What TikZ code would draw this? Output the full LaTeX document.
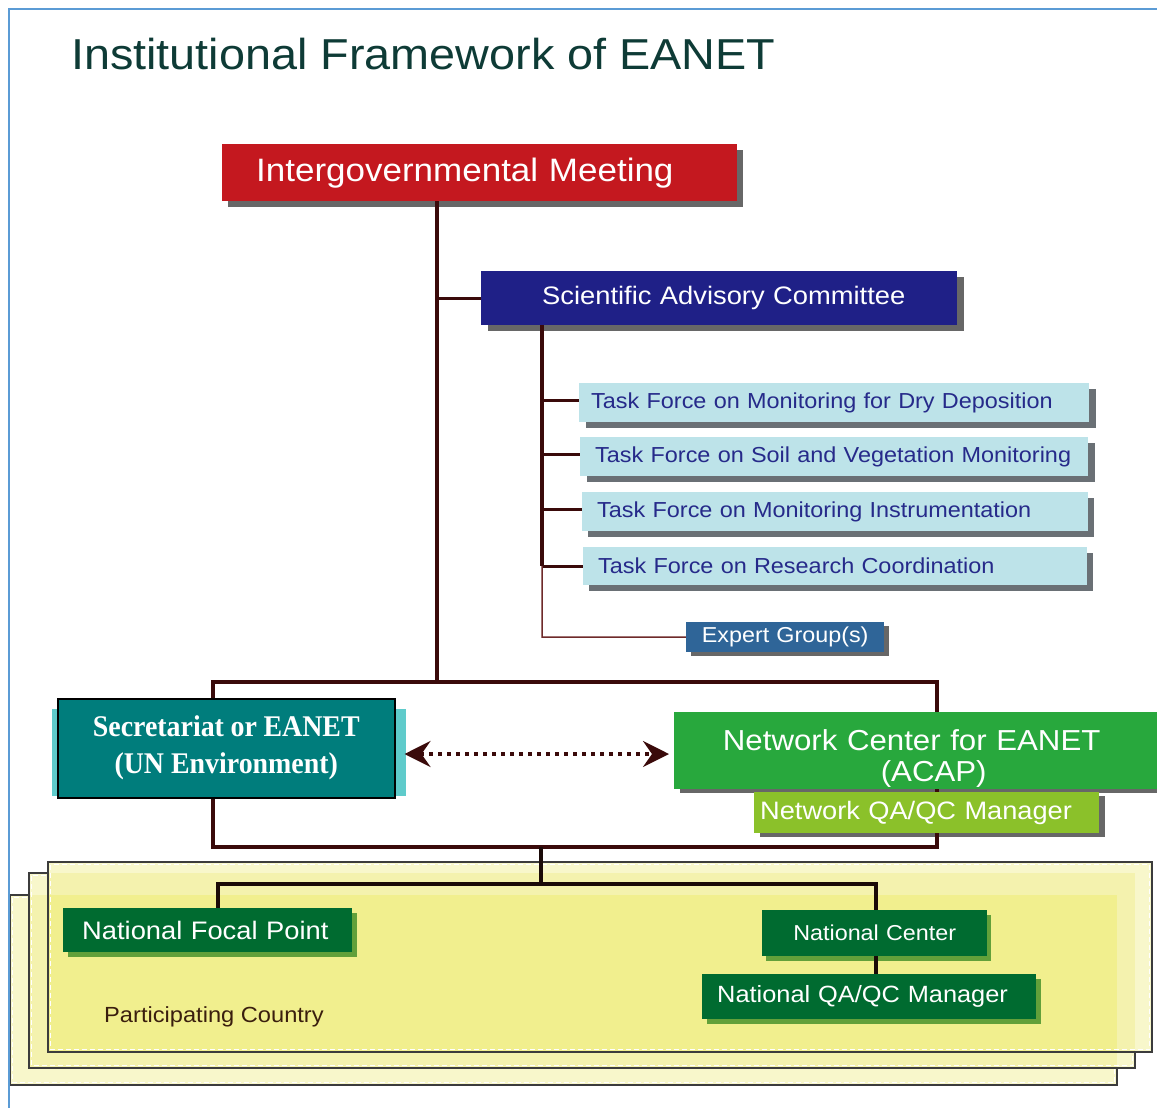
\documentclass[tikz,border=0pt]{standalone}
\usepackage{fontspec}
\setmainfont{Liberation Sans}[FakeStretch=1.08]
\newfontfamily\secfont{Liberation Serif}[FakeStretch=0.93]
\usetikzlibrary{arrows.meta}

\definecolor{framecol}{HTML}{5B9BD5}
\definecolor{titlecol}{HTML}{0E3B36}
\definecolor{igmred}{HTML}{C4181F}
\definecolor{sacblue}{HTML}{1F2087}
\definecolor{tffill}{HTML}{BDE3E9}
\definecolor{tftext}{HTML}{262A8A}
\definecolor{slate}{HTML}{6A7075}
\definecolor{greyshadow}{HTML}{676767}
\definecolor{expblue}{HTML}{2F6598}
\definecolor{secteal}{HTML}{007D7C}
\definecolor{secglow}{HTML}{5FCBCB}
\definecolor{ncgreen}{HTML}{28A83D}
\definecolor{qagreen}{HTML}{8BC12A}
\definecolor{natgreen}{HTML}{006B30}
\definecolor{natshadow}{HTML}{62A03A}
\definecolor{linecol}{HTML}{3A0A0A}
\definecolor{thinline}{HTML}{6E2A2A}
\definecolor{darkline}{HTML}{1A0A08}
\definecolor{pctext}{HTML}{3A1E0E}
\definecolor{panelA}{HTML}{F8F7CB}
\definecolor{panelB}{HTML}{F4F2AE}
\definecolor{panelC}{HTML}{F1EF8E}
\definecolor{panelrule}{HTML}{3C3C3C}

\newcommand\fsz[2]{\fontsize{#1}{#2}\selectfont}
\newcommand\boxshadow[4]{%
  \fill[#2] ([shift={(#3pt,-#4pt)}]#1.south west) rectangle ([shift={(#3pt,-#4pt)}]#1.north east);}

\pgfdeclarelayer{bg}
\pgfdeclarelayer{shade}
\pgfdeclarelayer{lines}
\pgfsetlayers{bg,shade,lines,main}

\tikzset{
  orgbox/.style={rectangle, inner sep=0pt, anchor=north west, text=white},
  tfbox/.style={orgbox, fill=tffill, text=tftext, minimum height=39pt, align=left,
    font=\fsz{21.7}{26}},
  natbox/.style={orgbox, fill=natgreen},
  conn/.style={draw=linecol, line width=3.2pt},
  thinconn/.style={draw=thinline, line width=1.5pt},
  natconn/.style={draw=darkline, line width=3.2pt},
  panel/.style={draw=panelrule, line width=1.4pt},
  panelhl/.style={draw=white, line width=0.8pt, dash pattern=on 5pt off 3pt},
  twoway/.style={draw=linecol, line width=3.4pt, dash pattern=on 3.5pt off 5.5pt,
    >={Stealth[length=26pt, width=26pt, inset=9pt]}, <->},
}

\begin{document}
\begin{tikzpicture}[x=1pt, y=-1pt]
\useasboundingbox (0,0) rectangle (1157,1108);

% frame
\draw[framecol, line width=2pt] (9,1110) -- (9,9) -- (1160,9);

% title
\node[anchor=base west, inner sep=0pt, text=titlecol, font=\fsz{43.3}{50}] (title) at (71,70)
  {Institutional Framework of EANET};

% stacked country panels
\begin{pgfonlayer}{bg}
  \fill[panelA] (10,895) rectangle (1117,1085);
  \draw[panelhl] (12.5,897.5) rectangle (1114.5,1082.5);
  \draw[panel] (10,895) rectangle (1117,1085);

  \fill[panelA] (29,873) rectangle (1135,1068);
  \fill[panelB] (29,895) rectangle (1117,1068);
  \draw[panelhl] (31.5,875.5) rectangle (1132.5,1065.5);
  \draw[panel] (29,873) rectangle (1135,1068);

  \fill[panelA] (48,862) rectangle (1152,1052);
  \fill[panelB] (48,873) rectangle (1135,1052);
  \fill[panelC] (48,895) rectangle (1117,1052);
  \draw[panelhl] (50.5,864.5) rectangle (1149.5,1049.5);
  \draw[panel] (48,862) rectangle (1152,1052);
\end{pgfonlayer}

% boxes
\node[orgbox, fill=igmred, minimum height=57pt, text width=515pt, align=left,
  font=\fsz{32.4}{38}] (igm) at (222,144) {\noindent\hspace*{34pt}Intergovernmental Meeting};

\node[orgbox, fill=sacblue, minimum height=54pt, text width=476pt, align=left,
  font=\fsz{25.3}{30}] (sac) at (481,271) {\noindent\hspace*{61pt}Scientific Advisory Committee};

\node[tfbox, text width=510pt] (tf1) at (579,383)
  {\noindent\hspace*{12pt}Task Force on Monitoring for Dry Deposition};
\node[tfbox, text width=508pt] (tf2) at (580,437)
  {\noindent\hspace*{15pt}Task Force on Soil and Vegetation Monitoring};
\node[tfbox, text width=506pt] (tf3) at (582,492)
  {\noindent\hspace*{15pt}Task Force on Monitoring Instrumentation};
\node[tfbox, text width=504pt, minimum height=38pt] (tf4) at (583,547)
  {\noindent\hspace*{15pt}Task Force on Research Coordination};

\node[orgbox, fill=expblue, minimum height=30pt, text width=198pt, align=center,
  font=\fsz{21.6}{26}] (exp) at (686,622) {Expert Group(s)};

\node[orgbox, fill=secteal, draw=black, line width=1.5pt, minimum height=99pt,
  text width=337pt, align=center, font=\secfont\bfseries\fsz{30}{37}] (sec) at (57,698)
  {\spaceskip=6pt plus 1pt minus 1pt\relax Secretariat or EANET\\(UN Environment)};

\node[orgbox, fill=ncgreen, minimum height=77pt, text width=475pt, align=center,
  font=\fsz{28.9}{31}] (nc) at (674,712)
  {\rule{0pt}{36pt}Network Center for EANET\\\hspace*{44pt}(ACAP)};
\fill[ncgreen] (nc.north east) rectangle ([xshift=20pt]nc.south east);

\node[orgbox, fill=qagreen, minimum height=41pt, text width=345pt, align=left,
  font=\fsz{25.2}{30}] (nqaqc) at (754,792) {\noindent\hspace*{6pt}Network QA/QC Manager};

\node[natbox, minimum height=44pt, text width=289pt, align=left,
  font=\fsz{25.3}{30}] (nfp) at (63,908) {\noindent\hspace*{19pt}National Focal Point};

\node[natbox, minimum height=46pt, text width=225pt, align=center,
  font=\fsz{21.6}{26}] (ncen) at (762,910) {National Center};

\node[natbox, minimum height=45pt, text width=334pt, align=left,
  font=\fsz{23.5}{28}] (nqa) at (702,974) {\noindent\hspace*{15pt}National QA/QC Manager};

\node[anchor=base west, inner sep=0pt, text=pctext, font=\fsz{21.9}{26}] (pc) at (104,1022)
  {Participating Country};

% shadows and glow
\begin{pgfonlayer}{shade}
  \boxshadow{igm}{greyshadow}{6}{6}
  \boxshadow{sac}{greyshadow}{7}{6}
  \boxshadow{tf1}{slate}{7}{6}
  \boxshadow{tf2}{slate}{7}{6}
  \boxshadow{tf3}{slate}{6}{6}
  \boxshadow{tf4}{slate}{6}{6}
  \boxshadow{exp}{greyshadow}{5}{4}
  \boxshadow{nc}{greyshadow}{6}{4}
  \fill[greyshadow] ([shift={(6pt,-4pt)}]nc.south east) rectangle ([xshift=20pt]nc.south east);
  \boxshadow{nqaqc}{greyshadow}{6}{4}
  \boxshadow{nfp}{natshadow}{5}{5}
  \boxshadow{ncen}{natshadow}{4}{5}
  \boxshadow{nqa}{natshadow}{5}{5}
  \fill[secglow] ([shift={(-5pt,3pt)}]sec.south west) rectangle ([shift={(10pt,-11pt)}]sec.north east);
\end{pgfonlayer}

% connectors
\coordinate (trunk) at (437,682);
\coordinate (junL) at (213,682);
\coordinate (junR) at (937,682);
\coordinate (botL) at (213,847);
\coordinate (botR) at (937,847);
\coordinate (sacx) at (542,637);
\coordinate (pcj) at (541,847);
\coordinate (pcjb) at (541,884);
\coordinate (natL) at (218,884);
\coordinate (natR) at (876,884);
\coordinate (arrowy) at (0,754);

\begin{pgfonlayer}{lines}
  \draw[conn] (igm.south -| trunk) -- (trunk);
  \draw[conn] (trunk |- sac.west) -- (sac.west);
  \draw[conn] (sec.north -| junL) -- (junL) -- (junR) -- (nc.north -| junR);
  \draw[conn] (sec.south -| botL) -- (botL) -- (botR) -- (nc.south -| botR);

  \draw[conn] (sac.south -| sacx) -- (sacx |- tf4.west);
  \draw[conn] ([yshift=2pt]sacx |- tf1.west) -- ([yshift=2pt]tf1.west);
  \draw[conn] ([yshift=2pt]sacx |- tf2.west) -- ([yshift=2pt]tf2.west);
  \draw[conn] ([yshift=2pt]sacx |- tf3.west) -- ([yshift=2pt]tf3.west);
  \draw[conn] (sacx |- tf4.west) -- (tf4.west);
  \draw[thinconn] (sacx |- tf4.west) -- (sacx) -- (exp.west);

  \draw[natconn] (pcj) -- (pcjb);
  \draw[natconn] (nfp.north -| natL) -- (natL) -- (natR) -- (ncen.north -| natR);
  \draw[natconn] (ncen.south -| natR) -- (nqa.north -| natR);
\end{pgfonlayer}

% two-way link between secretariat and network center
\draw[twoway, shorten <=9pt, shorten >=5pt] (sec.east |- arrowy) -- (nc.west |- arrowy);
\end{tikzpicture}
\end{document}
